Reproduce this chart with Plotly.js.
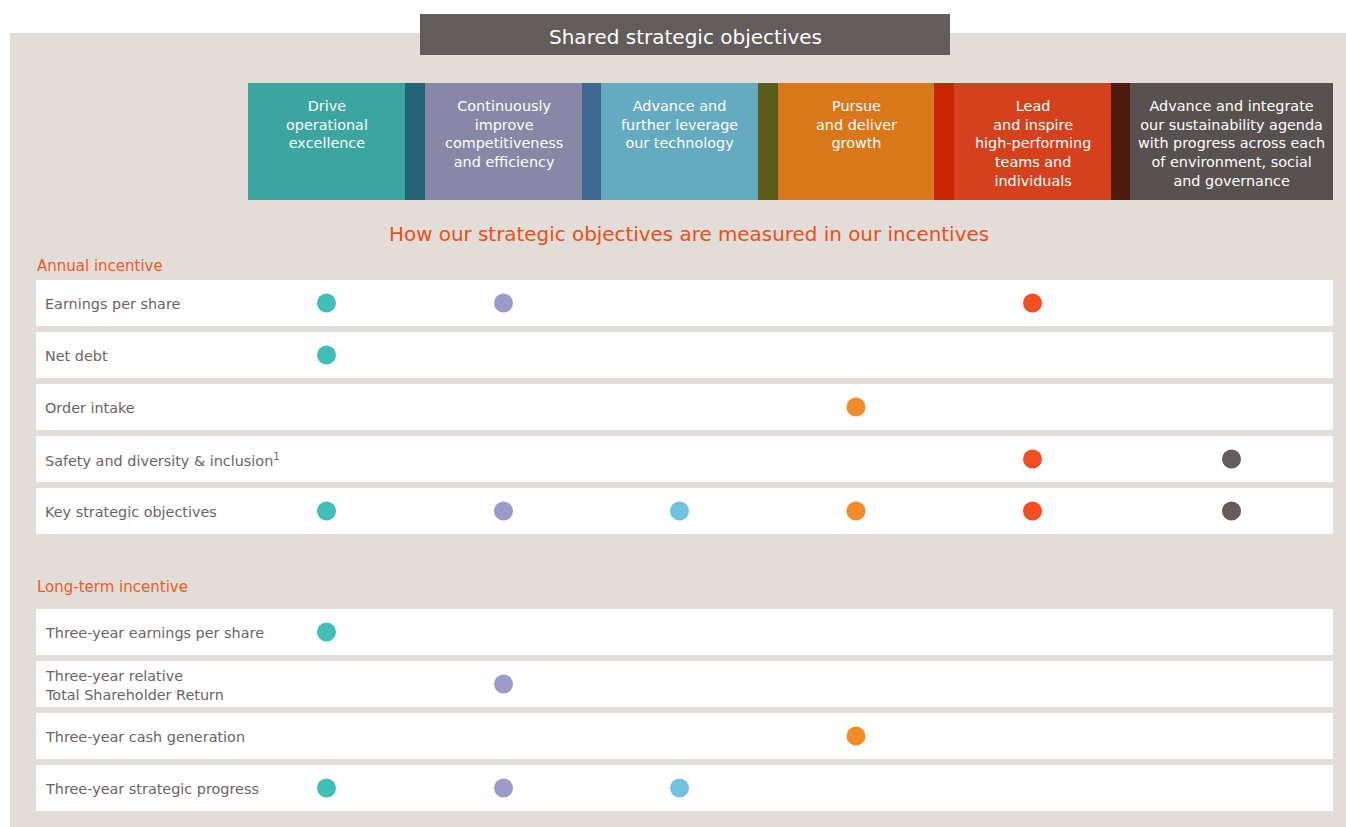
<!DOCTYPE html>
<html>
<head>
<meta charset="utf-8">
<script src="https://cdn.plot.ly/plotly-3.0.1.min.js"></script>
<style>html,body{margin:0;padding:0;background:#fff;}#chart{width:1346px;height:827px;}</style>
</head>
<body>
<div id="chart"></div>
<script>
// ---- DATA ----
const objectives = [
  "Drive<br>operational<br>excellence",
  "Continuously<br>improve<br>competitiveness<br>and efficiency",
  "Advance and<br>further leverage<br>our technology",
  "Pursue<br>and deliver<br>growth",
  "Lead<br>and inspire<br>high-performing<br>teams and<br>individuals",
  "Advance and integrate<br>our sustainability agenda<br>with progress across each<br>of environment, social<br>and governance"
];
const annualMeasures = [
  "Earnings per share",
  "Net debt",
  "Order intake",
  "Safety and diversity & inclusion<sup>1</sup>",
  "Key strategic objectives"
];
const annualLinks = [
  [0, 1, 4],
  [0],
  [3],
  [4, 5],
  [0, 1, 2, 3, 4, 5]
];
const longTermMeasures = [
  "Three-year earnings per share",
  "Three-year relative<br>Total Shareholder Return",
  "Three-year cash generation",
  "Three-year strategic progress"
];
const longTermLinks = [
  [0],
  [1],
  [3],
  [0, 1, 2]
];
const titleText = "Shared strategic objectives";
const subtitleText = "How our strategic objectives are measured in our incentives";
const sectionLabels = ["Annual incentive", "Long-term incentive"];

// ---- STYLE / LAYOUT GEOMETRY ----
const W = 1346, H = 827;
const boxColors   = ["#3aa69f", "#8887a7", "#64abc2", "#db771b", "#d5411d", "#57514f"];
const stripColors = ["#236478", "#3d6894", "#5e5c19", "#c92500", "#4f190e"];
const dotColors   = ["#40bfb8", "#9b9ac8", "#6fc3e0", "#f28c28", "#f24e22", "#645c5b"];
const colLeft  = [248, 425, 601, 778, 954, 1130];
const colRight = [405, 582, 758, 934, 1111, 1333];
const colCenter = colLeft.map((l, i) => (l + colRight[i]) / 2);
const annualTop = 280, ltTop = 609, rowPitch = 52, rowH = 46;
const rowLeft = 36, rowRight = 1333;
const labelFont = "'DejaVu Sans', 'Open Sans', sans-serif";

const shapes = [];
const annotations = [];

function addText(text, x, y, xanchor, yanchor, font) {
  annotations.push({x: x, y: y, text: text, showarrow: false, xanchor: xanchor, yanchor: yanchor,
    align: xanchor === "left" ? "left" : "center", borderpad: 0, font: font});
}

// beige panel
shapes.push({type: "rect", x0: 10, x1: W, y0: 33, y1: H, fillcolor: "#e2ddd9", line: {width: 0}, layer: "below"});
// title box
shapes.push({type: "rect", x0: 420, x1: 950, y0: 14, y1: 55, fillcolor: "#625c5b", line: {width: 0}, layer: "below"});
addText(titleText, 685, 37, "center", "middle", {family: labelFont, size: 20, color: "#ffffff"});
// header boxes
objectives.forEach((t, i) => {
  shapes.push({type: "rect", x0: colLeft[i], x1: colRight[i], y0: 83, y1: 200, fillcolor: boxColors[i], line: {width: 0}, layer: "below"});
  if (i < stripColors.length) {
    shapes.push({type: "rect", x0: colRight[i], x1: colLeft[i + 1], y0: 83, y1: 200, fillcolor: stripColors[i], line: {width: 0}, layer: "below"});
  }
  addText(t, colCenter[i], 97, "center", "top", {family: labelFont, size: 14.4, color: "#ffffff"});
});
addText(subtitleText, 688.5, 234.5, "center", "middle", {family: labelFont, size: 19.9, color: "#f04e12"});
addText(sectionLabels[0], 36, 265.5, "left", "middle", {family: labelFont, size: 15, color: "#f25a1c"});
addText(sectionLabels[1], 36, 586.5, "left", "middle", {family: labelFont, size: 15, color: "#f25a1c"});

const rowCenters = [];
function addRows(measures, top) {
  measures.forEach((m, r) => {
    const y0 = top + r * rowPitch;
    const yc = y0 + rowH / 2;
    shapes.push({type: "rect", x0: rowLeft, x1: rowRight, y0: y0, y1: y0 + rowH, fillcolor: "#ffffff", line: {width: 0}, layer: "below"});
    addText(m, 44, yc + 1, "left", "middle", {family: labelFont, size: 14.4, color: "#6b6464"});
    rowCenters.push(yc);
  });
}
addRows(annualMeasures, annualTop);
addRows(longTermMeasures, ltTop);

const allLinks = annualLinks.concat(longTermLinks);
const traces = objectives.map((o, k) => {
  const xs = [], ys = [];
  allLinks.forEach((links, r) => {
    if (links.includes(k)) { xs.push(colCenter[k]); ys.push(rowCenters[r]); }
  });
  return {type: "scatter", mode: "markers", x: xs, y: ys, hoverinfo: "skip", showlegend: false,
    marker: {size: 19, color: dotColors[k], line: {width: 0}}};
});

const layout = {
  width: W, height: H,
  margin: {l: 0, r: 0, t: 0, b: 0},
  paper_bgcolor: "#ffffff", plot_bgcolor: "rgba(0,0,0,0)",
  xaxis: {range: [0, W], visible: false, fixedrange: true},
  yaxis: {range: [H, 0], visible: false, fixedrange: true},
  shapes: shapes, annotations: annotations, showlegend: false
};
Plotly.newPlot("chart", traces, layout, {displayModeBar: false, staticPlot: true});
</script>
</body>
</html>
